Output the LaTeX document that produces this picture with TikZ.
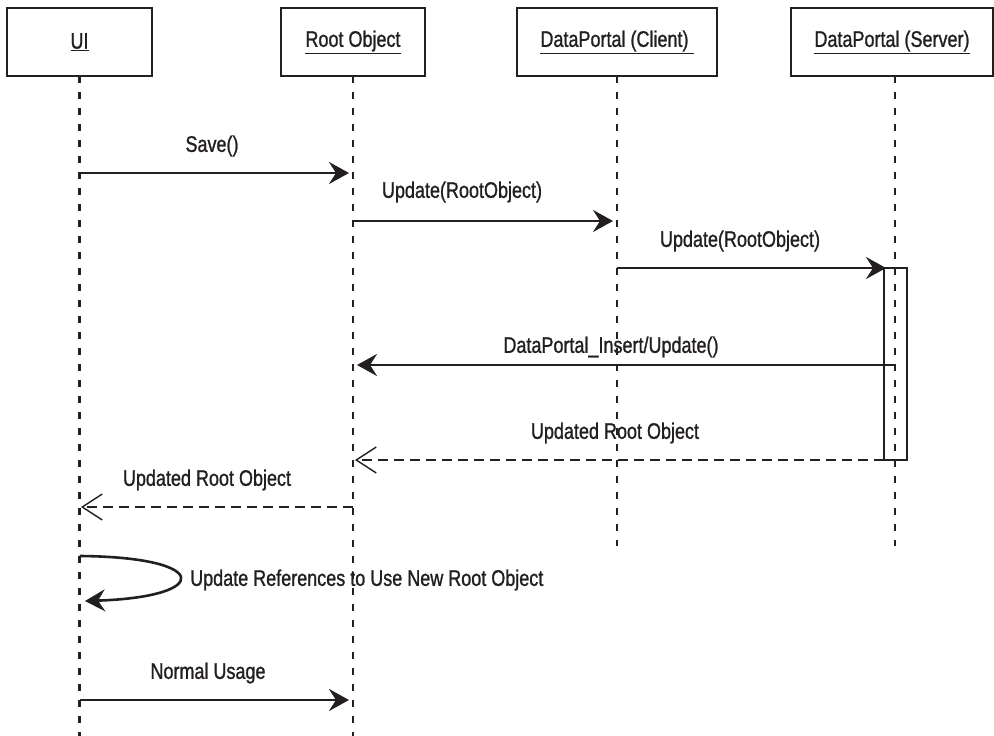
\documentclass[tikz,border=0pt]{standalone}
\usepackage{fontspec}
\setmainfont[FakeStretch=0.8,FakeBold=1.1]{Liberation Sans}
\usetikzlibrary{arrows.meta}
\definecolor{ink}{RGB}{35,31,32}
\tikzset{
  hdr/.style={draw=ink, line width=2.2pt, minimum height=68pt, inner sep=0pt, text=ink, font=\fontsize{22.5}{26}\selectfont},
  lifeline/.style={draw=ink, line width=2.5pt, dash pattern=on 7pt off 9pt},
  msg/.style={draw=ink, line width=2.6pt, -{Stealth[length=20pt,width=22pt,inset=7pt]}},
  ret/.style={draw=ink, line width=2.3pt, dash pattern=on 10pt off 6pt, -{Straight Barb[length=20pt,width=26pt,line width=1.4pt]}},
  lbl/.style={text=ink, inner sep=0pt, font=\fontsize{22.5}{26}\selectfont},
  actbox/.style={draw=ink, line width=1.7pt, minimum width=23pt, minimum height=192pt, inner sep=0pt}
}
\begin{document}
\begin{tikzpicture}[x=1pt,y=-1pt]
\useasboundingbox (0,0) rectangle (994,736);
% headers
\node[hdr, minimum width=145pt] (ui) at (79.5,42) {\underline{UI}};
\node[hdr, minimum width=144pt] (root) at (353,42) {\underline{Root Object}};
\node[hdr, minimum width=200pt] (cli) at (617,42) {\underline{DataPortal (Client)~}};
\node[hdr, minimum width=202pt] (srv) at (892,42) {\underline{DataPortal (Server)}};
% lifeline coordinates
\coordinate (uiT) at (79.5,76);
\coordinate (uiB) at (79.5,736);
\coordinate (rtT) at (353,76);
\coordinate (rtB) at (353,736);
\coordinate (clT) at (617,76);
\coordinate (clB) at (617,546);
\coordinate (svT) at (895,76);
\coordinate (svB) at (895,546);
\draw[lifeline] (uiT) -- (uiB);
\draw[lifeline] (rtT) -- (rtB);
\draw[lifeline] (clT) -- (clB);
\draw[lifeline] (svT) -- (svB);
% activation
\node[actbox] (act) at (895.5,364) {};
% message endpoints
\coordinate (m1a) at (79.5,173); \coordinate (m1b) at (349,173);
\coordinate (m2a) at (353,221); \coordinate (m2b) at (613,221);
\coordinate (m3a) at (617,268); \coordinate (m3b) at (886,268);
\coordinate (m4a) at (895,365); \coordinate (m4b) at (357,365);
\coordinate (m5a) at (884,460); \coordinate (m5b) at (355,460);
\coordinate (m6a) at (353,507); \coordinate (m6b) at (81,507);
\coordinate (l1) at (79.5,556); \coordinate (l2) at (85,601);
\coordinate (m7a) at (79.5,700); \coordinate (m7b) at (349,700);
\draw[msg] (m1a) -- (m1b);
\draw[msg] (m2a) -- (m2b);
\draw[msg] (m3a) -- (m3b);
\draw[msg] (m4a) -- (m4b);
\draw[ret] (m5a) -- (m5b);
\draw[ret] (m6a) -- (m6b);
\draw[msg] (l1) .. controls (212,557) and (212,597) .. (l2);
\draw[msg] (m7a) -- (m7b);
% labels
\node[lbl] (t1) at (212,146) {Save()};
\node[lbl] (t2) at (462,192) {Update(RootObject)};
\node[lbl] (t3) at (740,241) {Update(RootObject)};
\node[lbl] (t4) at (611,347) {DataPortal\_Insert/Update()};
\node[lbl] (t5) at (615,433) {Updated Root Object};
\node[lbl] (t6) at (207,480) {Updated Root Object};
\node[lbl, anchor=west] (t7) at (190,580) {Update References to Use New Root Object};
\node[lbl] (t8) at (208,673) {Normal Usage};
\end{tikzpicture}
\end{document}
